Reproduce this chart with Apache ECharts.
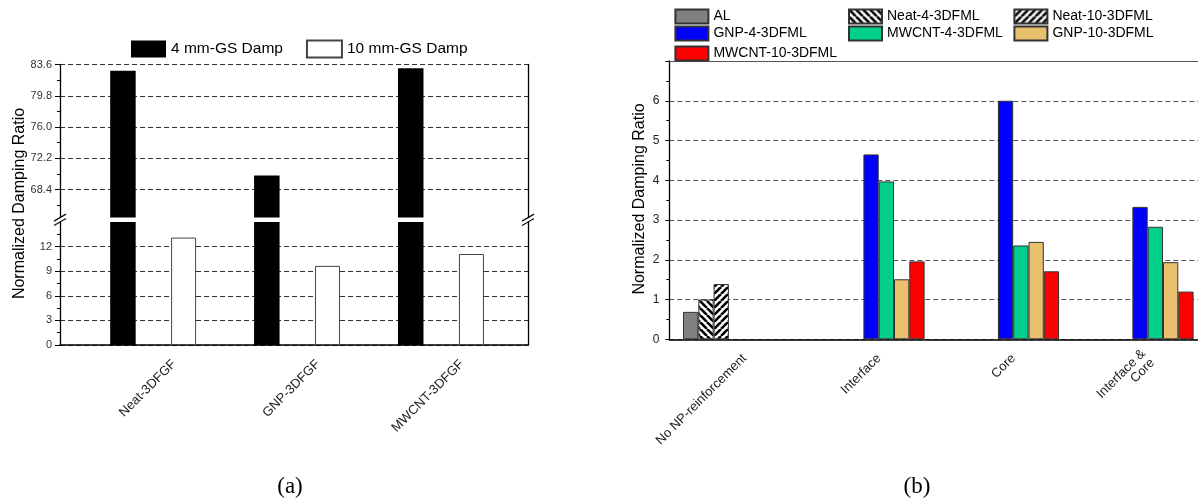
<!DOCTYPE html>
<html><head><meta charset="utf-8">
<script src="https://cdn.jsdelivr.net/npm/echarts@6/dist/echarts.min.js"></script>
<style>html,body{margin:0;padding:0;background:#fff}#c{width:1198px;height:502px}</style>
</head><body><div id="c"></div>
<script>
// ---------------- data: panel (a) ----------------
const catsA = ['Neat-3DFGF', 'GNP-3DFGF', 'MWCNT-3DFGF'];
const damp4mm = [82.85, 70.1, 83.15];
const damp10mm = [13.1, 9.65, 11.1];
const upperMajorTicks = [68.4, 72.2, 76.0, 79.8, 83.6];
const upperMinorTicks = [66.5, 70.3, 74.1, 77.9, 81.7];
const lowerMajorTicks = [0, 3, 6, 9, 12];
const lowerMinorTicks = [1.5, 4.5, 7.5, 10.5, 13.5];
// ---------------- data: panel (b) ----------------
const catsB = ['No NP-reinforcement', 'Interface', 'Core', 'Interface &\nCore'];
const namesB = ['AL', 'Neat-4-3DFML', 'Neat-10-3DFML', 'GNP-4-3DFML', 'MWCNT-4-3DFML', 'GNP-10-3DFML', 'MWCNT-10-3DFML'];
const valAL      = [0.69, null, null, null];
const valNeat4   = [1.0, null, null, null];
const valNeat10  = [1.39, null, null, null];
const valGnp4    = [null, 4.65, 6.0, 3.33];
const valMwcnt4  = [null, 3.97, 2.36, 2.83];
const valGnp10   = [null, 1.51, 2.45, 1.94];
const valMwcnt10 = [null, 1.96, 1.71, 1.2];

// ---------------- layout / style ----------------
const FONT = 'Liberation Sans, Arial, sans-serif';
const UP_MIN = 65, UP_MAX = 83.6, LO_MIN = 0, LO_MAX = 15;
const A = {L: 60, W: 468, BL: 81.2, BW: 431.7, UT: 64.5, UH: 153.1, LT: 222, LH: 123, labDX: 21};
const B = {L: 669.3, W: 538, T: 61, H: 278.3, labDX: 8};

function hatch(dir) {
  const S = 7;
  const c = document.createElement('canvas'); c.width = S; c.height = S;
  const g = c.getContext('2d');
  g.fillStyle = '#fff'; g.fillRect(0, 0, S, S);
  g.strokeStyle = '#000'; g.lineWidth = 2.6;
  for (let k = -1; k <= 1; k++) {
    g.beginPath();
    if (dir === 'back') { g.moveTo(k * S, 0); g.lineTo(k * S + S, S); }
    else { g.moveTo(k * S, S); g.lineTo(k * S + S, 0); }
    g.stroke();
  }
  return {image: c, repeat: 'repeat'};
}

const colorsB = ['#808080', hatch('back'), hatch('fwd'), '#0000FF', '#00D08A', '#E9C16E', '#FF0000'];
const valuesB = [valAL, valNeat4, valNeat10, valGnp4, valMwcnt4, valGnp10, valMwcnt10];

const gridBase = {containLabel: false, outerBoundsMode: 'none'};
const hiddenX = (gi, type, data) => Object.assign({gridIndex: gi, type: type, show: false}, type === 'value' ? {min: 0, max: 1} : {data: data});
const hiddenY = (gi, mn, mx) => ({gridIndex: gi, type: 'value', min: mn, max: mx, show: false});
const dashed = {show: true, lineStyle: {type: [5, 3], color: '#333', width: 1}};

const grid = [
  Object.assign({left: A.L, top: A.UT, width: A.W, height: A.UH}, gridBase),          // 0 upper frame
  Object.assign({left: A.BL, top: A.UT, width: A.BW, height: A.UH}, gridBase),        // 1 upper bars
  Object.assign({left: A.L, top: A.LT, width: A.W, height: A.LH}, gridBase),          // 2 lower frame
  Object.assign({left: A.BL, top: A.LT, width: A.BW, height: A.LH}, gridBase),        // 3 lower bars
  Object.assign({left: A.BL + A.labDX, top: A.LT, width: A.BW, height: A.LH}, gridBase), // 4 labels a
  Object.assign({left: B.L, top: B.T, width: B.W, height: B.H}, gridBase),            // 5 panel b
  Object.assign({left: B.L + B.labDX, top: B.T, width: B.W, height: B.H}, gridBase)   // 6 labels b
];

const xAxis = [
  hiddenX(0, 'value'),
  hiddenX(1, 'category', catsA),
  {gridIndex: 2, type: 'value', min: 0, max: 1, position: 'bottom',
   axisLine: {show: true, onZero: false, lineStyle: {color: '#000', width: 1.5}},
   axisTick: {show: false}, axisLabel: {show: false}, splitLine: {show: false}},
  hiddenX(3, 'category', catsA),
  {gridIndex: 4, type: 'category', data: catsA, position: 'bottom',
   axisLine: {show: false}, axisTick: {show: false}, splitLine: {show: false},
   axisLabel: {interval: 0, rotate: 45, margin: 17, fontSize: 13, color: '#222', fontFamily: FONT}},
  {gridIndex: 5, type: 'category', data: catsB, position: 'bottom',
   axisLine: {show: true, onZero: false, lineStyle: {color: '#000', width: 1.5}},
   axisTick: {show: false}, axisLabel: {show: false}, splitLine: {show: false}},
  {gridIndex: 5, type: 'category', data: catsB, position: 'top',
   axisLine: {show: true, onZero: false, lineStyle: {color: '#555', width: 1}},
   axisTick: {show: false}, axisLabel: {show: false}, splitLine: {show: false}},
  {gridIndex: 6, type: 'category', data: catsB, position: 'bottom',
   axisLine: {show: false}, axisTick: {show: false}, splitLine: {show: false},
   axisLabel: {interval: 0, rotate: 45, margin: 17, fontSize: 13, color: '#222', fontFamily: FONT}}
];

function frameY(gi, mn, mx, major, minor, fmt) {
  return [
    {gridIndex: gi, type: 'value', min: mn, max: mx, position: 'left',
     axisLine: {show: true, onZero: false, lineStyle: {color: '#000', width: 1.3}},
     axisTick: {show: true, inside: false, length: 5, customValues: major, lineStyle: {color: '#000'}},
     axisLabel: {show: true, customValues: major, formatter: fmt, margin: 8, fontSize: 11, color: '#333', fontFamily: FONT},
     splitLine: dashed},
    {gridIndex: gi, type: 'value', min: mn, max: mx, position: 'right',
     axisLine: {show: true, onZero: false, lineStyle: {color: '#000', width: 1.3}},
     axisTick: {show: false}, axisLabel: {show: false}, splitLine: {show: false}},
    {gridIndex: gi, type: 'value', min: mn, max: mx, position: 'left',
     axisLine: {show: false, onZero: false},
     axisTick: {show: true, inside: false, length: 3, customValues: minor, lineStyle: {color: '#000'}},
     axisLabel: {show: false}, splitLine: {show: false}}
  ];
}

const yAxis = [].concat(
  frameY(0, UP_MIN, UP_MAX, upperMajorTicks, upperMinorTicks, v => v.toFixed(1)), // 0,1,2
  [hiddenY(1, UP_MIN, UP_MAX)],                                                     // 3
  frameY(2, LO_MIN, LO_MAX, lowerMajorTicks, lowerMinorTicks, v => String(v)),      // 4,5,6
  [hiddenY(3, LO_MIN, LO_MAX)],                                                     // 7
  [hiddenY(4, 0, 1)],                                                               // 8
  [{gridIndex: 5, type: 'value', min: 0, max: 7, interval: 1, position: 'left',
    axisLine: {show: true, onZero: false, lineStyle: {color: '#000', width: 1.3}},
    axisTick: {show: true, inside: false, length: 4, lineStyle: {color: '#000'}},
    minorTick: {show: true, splitNumber: 2, length: 3, lineStyle: {color: '#000'}},
    axisLabel: {margin: 10, fontSize: 12, color: '#222', fontFamily: FONT, formatter: v => (v >= 7 ? '' : String(v))},
    splitLine: {show: true, showMaxLine: false, lineStyle: {type: [5, 3], color: '#555', width: 1}},
    minorSplitLine: {show: false}}],                                                // 9
  [hiddenY(6, 0, 1)]                                                                // 10
);

const barA = (name, xi, yi, data, style, w) => ({
  type: 'bar', name: name, xAxisIndex: xi, yAxisIndex: yi, data: data, clip: true,
  barWidth: w, barGap: '139%', itemStyle: style, animation: false
});
const styleBlack = {color: '#000', borderColor: '#000', borderWidth: 0};
const styleWhite = {color: '#fff', borderColor: '#444', borderWidth: 1};

const series = [
  barA('4 mm-GS Damp', 1, 3, damp4mm.map(v => (v >= UP_MIN ? v : null)), styleBlack, 25.5),
  barA('10 mm-GS Damp', 1, 3, damp10mm.map(v => (v >= UP_MIN ? v : null)), styleWhite, 25),
  barA('4 mm-GS Damp', 3, 7, damp4mm, styleBlack, 25.5),
  barA('10 mm-GS Damp', 3, 7, damp10mm, styleWhite, 25)
].concat(namesB.map((n, i) => ({
  type: 'bar', name: n, xAxisIndex: 5, yAxisIndex: 9, data: valuesB[i],
  barWidth: 15.3, barGap: '0%',
  itemStyle: {color: colorsB[i], borderColor: '#333', borderWidth: 1}
})));

// legends
const legendB = [];
const colX = [674.4, 848, 1013.4];
const rowC = [15.5, 32.5, 52.5];
const slot = [[0, 0], [1, 0], [2, 0], [0, 1], [1, 1], [2, 1], [0, 2]];
namesB.forEach((n, i) => {
  legendB.push({data: [n], left: colX[slot[i][0]], top: rowC[slot[i][1]] - 7, padding: 0,
    itemWidth: 33, itemHeight: 14, icon: 'rect', selectedMode: false,
    textStyle: {fontSize: 14, color: '#000', fontFamily: FONT}});
});
const legend = [{data: ['4 mm-GS Damp', '10 mm-GS Damp'], left: 131, top: 39.5, padding: 0,
  itemWidth: 35, itemHeight: 17, itemGap: 23, icon: 'rect', selectedMode: false,
  textStyle: {fontSize: 15.5, color: '#000', fontFamily: FONT}}].concat(legendB);

// decorations: axis titles, captions, break marks
const txt = (t, x, y, size, fam, rot) => ({type: 'text', x: x, y: y, rotation: rot || 0, silent: true,
  style: {text: t, font: size + 'px ' + fam, fill: '#000', align: 'center', verticalAlign: 'middle',
          textAlign: 'center', textVerticalAlign: 'middle'}});
const brk = (x, y) => ({type: 'line', silent: true, shape: {x1: x - 6, y1: y + 3.5, x2: x + 6, y2: y - 3.5},
  style: {stroke: '#111', lineWidth: 1.3}});
const upBottom = A.UT + A.UH, loTop = A.LT;
const graphic = [
  txt('Normalized Damping Ratio', 19.5, 203.5, 16, FONT, Math.PI / 2),
  txt('Normalized Damping Ratio', 640, 199, 16, FONT, Math.PI / 2),
  txt('(a)', 290, 487, 23, '"Liberation Serif", serif'),
  txt('(b)', 917, 487, 23, '"Liberation Serif", serif'),
  brk(A.L, upBottom), brk(A.L, loTop), brk(A.L + A.W, upBottom), brk(A.L + A.W, loTop)
];

const chart = echarts.init(document.getElementById('c'), null, {renderer: 'canvas'});
chart.setOption({
  animation: false,
  backgroundColor: '#fff',
  textStyle: {fontFamily: FONT},
  grid: grid, xAxis: xAxis, yAxis: yAxis, series: series, legend: legend, graphic: graphic
});
</script></body></html>
